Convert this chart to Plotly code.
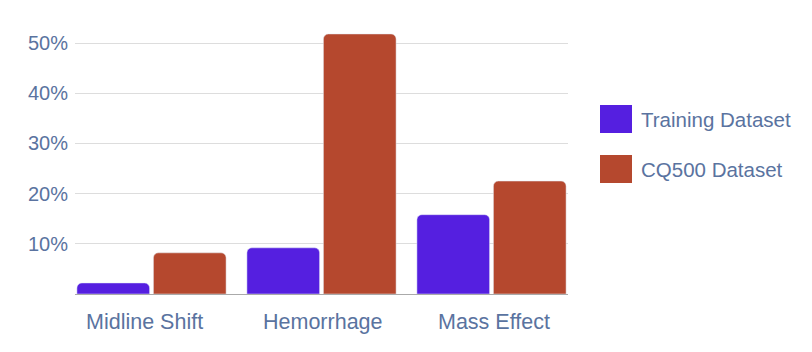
import plotly.graph_objects as go

categories = ["Midline Shift", "Hemorrhage", "Mass Effect"]
training = [2.2, 9.2, 15.8]
cq500 = [8.2, 51.8, 22.5]
series_names = ["Training Dataset", "CQ500 Dataset"]
tick_vals = [10, 20, 30, 40, 50]
tick_text = ["10%", "20%", "30%", "40%", "50%"]

c_train = "#551fe0"
c_cq = "#b5482e"
font_color = "#5a73a0"
font_family = "Liberation Sans, Arial, sans-serif"

L, R, T, B = 75, 568, 33, 294
PW, PH = R - L, B - T

fig = go.Figure()
fig.add_trace(go.Bar(x=categories, y=training, name=series_names[0],
                     marker=dict(color=c_train, cornerradius=5), showlegend=False))
fig.add_trace(go.Bar(x=categories, y=cq500, name=series_names[1],
                     marker=dict(color=c_cq, cornerradius=5), showlegend=False))

# category labels as annotations (small per-label offsets)
label_shift = [-7, 1, 2]
for cat, sh in zip(categories, label_shift):
    fig.add_annotation(xref="x", yref="paper", x=cat, y=0, text=cat,
                       showarrow=False, xanchor="center", yanchor="middle",
                       xshift=sh, yshift=-28,
                       font=dict(size=21.5, color=font_color, family=font_family))

# custom legend with large swatches
for i, (name, col) in enumerate(zip(series_names, [c_train, c_cq])):
    y0 = 105 + i * 50
    fig.add_shape(type="rect", xref="paper", yref="paper",
                  x0=(600 - L) / PW, x1=(632 - L) / PW,
                  y0=(B - (y0 + 28)) / PH, y1=(B - y0) / PH,
                  fillcolor=col, line=dict(width=0))
    fig.add_annotation(xref="paper", yref="paper", x=(641 - L) / PW,
                       y=(B - (y0 + 14)) / PH, text=name, showarrow=False,
                       xanchor="left", yanchor="middle", xshift=-2,
                       font=dict(size=20.5, color=font_color, family=font_family))

fig.update_layout(
    width=812, height=352,
    margin=dict(l=L, r=812 - R, t=T, b=352 - B, pad=0),
    paper_bgcolor="white", plot_bgcolor="white",
    barmode="group", bargap=0.1, bargroupgap=0.05,
    font=dict(family=font_family, size=20, color=font_color),
    xaxis=dict(showgrid=False, ticks="", showline=False, showticklabels=False,
               range=[-0.45, 2.45]),
    yaxis=dict(range=[0, PH / 5.02], tickvals=tick_vals, ticktext=tick_text,
               showgrid=True, gridcolor="#dddddd", gridwidth=1,
               zeroline=True, zerolinecolor="#aaaaaa", zerolinewidth=1,
               ticks="", ticklabelstandoff=6,
               tickfont=dict(size=20)),
)

fig.write_html("out.html")
